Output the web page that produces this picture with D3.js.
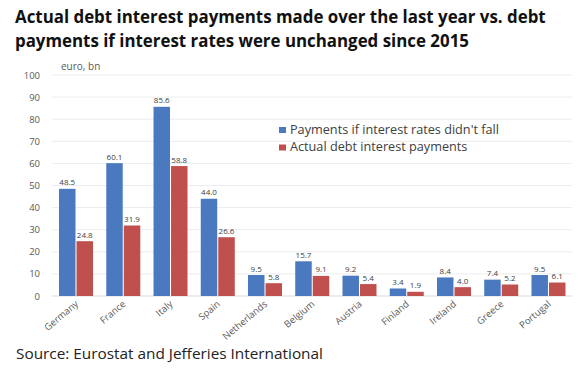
<!DOCTYPE html>
<html>
<head>
<meta charset="utf-8">
<script src="https://cdn.jsdelivr.net/npm/d3@7"></script>
<style>
html,body{margin:0;padding:0;background:#fff;}
svg{display:block;}
</style>
</head>
<body>
<svg id="chart" width="580" height="379"></svg>
<script>
const categories = ["Germany","France","Italy","Spain","Netherlands","Belgium","Austria","Finland","Ireland","Greece","Portugal"];
const unchanged = [48.5,60.1,85.6,44.0,9.5,15.7,9.2,3.4,8.4,7.4,9.5];
const actual = [24.8,31.9,58.8,26.6,5.8,9.1,5.4,1.9,4.0,5.2,6.1];
const seriesNames = ["Payments if interest rates didn't fall","Actual debt interest payments"];
const yTicks = [0,10,20,30,40,50,60,70,80,90,100];
const titleLines = ["Actual debt interest payments made over the last year vs. debt","payments if interest rates were unchanged since 2015"];
const unitLabel = "euro, bn";
const sourceText = "Source: Eurostat and Jefferies International";

const colors = ["#4a79c0","#c0504d"];
const svg = d3.select("#chart");
const font = "'Open Sans', sans-serif";

// Title
const t = svg.append("g");
titleLines.forEach((line,i)=>{
  t.append("text").attr("x",15).attr("y",23+i*23.5)
   .attr("font-family",font).attr("font-weight",700).attr("font-size",17)
   .attr("fill","#111").text(line);
});
{
  const n = t.select("text").node();
  const w = n.getComputedTextLength();
  const fs = 17*531/w;
  t.selectAll("text").attr("font-size",fs.toFixed(2));
}

const y = d3.scaleLinear().domain([0,100]).range([296,75]);
const x = d3.scaleBand().domain(categories).range([52.4,572.1]).paddingInner(0).paddingOuter(0);
const inner = d3.scaleBand().domain([0,1]).range([0,34]).paddingInner(0.06);

// gridlines
svg.append("g").selectAll("line").data(yTicks).join("line")
  .attr("x1",52).attr("x2",572)
  .attr("y1",d=>y(d)).attr("y2",d=>y(d))
  .attr("stroke",d=>d===0?"#d9d9d9":"#ececec").attr("stroke-width",1);

// y axis labels
const yAxis = d3.axisLeft(y).tickValues(yTicks).tickSize(0).tickPadding(0);
const ya = svg.append("g").attr("transform","translate(40,0)").call(yAxis);
ya.select(".domain").remove();
ya.selectAll("text").attr("font-family",font).attr("font-size",9.5).attr("fill","#595959");

svg.append("text").attr("x",61).attr("y",69.5).attr("font-family",font).attr("font-size",10)
  .attr("fill","#595959").text(unitLabel);

// bars
const data = categories.map((c,i)=>({c, v:[unchanged[i],actual[i]]}));
const groups = svg.append("g").selectAll("g").data(data).join("g")
  .attr("transform",d=>`translate(${x(d.c)+ (x.bandwidth()-34)/2},0)`);
groups.selectAll("rect").data(d=>d.v.map((v,k)=>({v,k}))).join("rect")
  .attr("x",d=>inner(d.k)).attr("width",inner.bandwidth())
  .attr("y",d=>y(d.v)).attr("height",d=>y(0)-y(d.v))
  .attr("fill",d=>colors[d.k]);
groups.selectAll("text").data(d=>d.v.map((v,k)=>({v,k}))).join("text")
  .attr("x",d=>inner(d.k)+inner.bandwidth()/2).attr("y",d=>y(d.v)-3.5)
  .attr("text-anchor","middle").attr("font-family",font).attr("font-size",8)
  .attr("fill","#404040").text(d=>d.v.toFixed(1));

// category labels
svg.append("g").selectAll("text").data(categories).join("text")
  .attr("transform",d=>`translate(${x(d)+x.bandwidth()/2+3},${305}) rotate(-40)`)
  .attr("text-anchor","end").attr("font-family",font).attr("font-size",9.5)
  .attr("fill","#595959").text(d=>d);

// legend
const lg = svg.append("g").selectAll("g").data(seriesNames).join("g")
  .attr("transform",(d,i)=>`translate(279,${130+i*17.5})`);
lg.append("rect").attr("x",0).attr("y",-3).attr("width",7).attr("height",6).attr("fill",(d,i)=>colors[i]);
const lgt = lg.append("text").attr("x",11).attr("y",3.8).attr("font-family",font).attr("font-size",10)
  .attr("fill","#404040").text(d=>d);
{
  const w = lgt.node().getComputedTextLength();
  lgt.attr("font-size",(10*209/w).toFixed(2));
}

// source
const src = svg.append("text").attr("x",16).attr("y",359).attr("font-family",font)
  .attr("font-size",15).attr("fill","#222").text(sourceText);
{
  const w = src.node().getComputedTextLength();
  src.attr("font-size",(15*307/w).toFixed(2));
}
</script>
</body>
</html>
